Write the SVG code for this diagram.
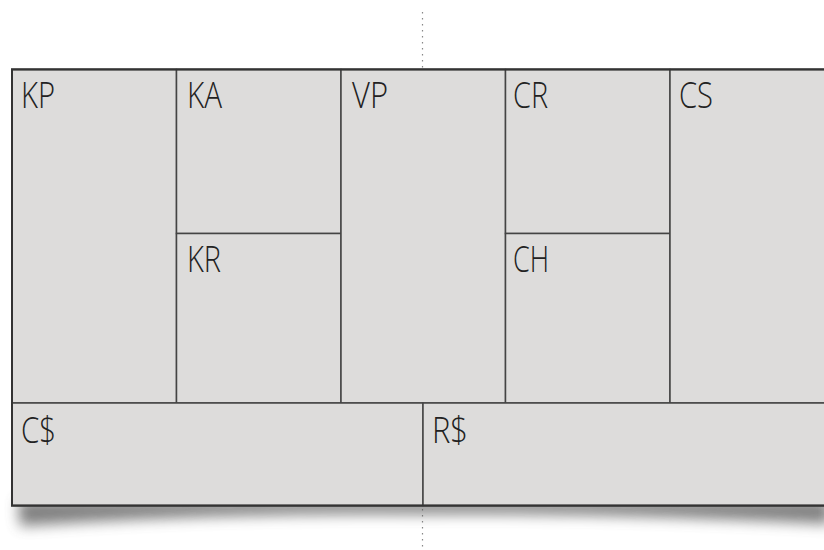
<svg xmlns="http://www.w3.org/2000/svg" width="824" height="550" viewBox="0 0 824 550">
<defs>
<style>
.cell{fill:#dddcdb;stroke:#444;stroke-width:1.5}
.lbl{font-family:"Open Sans","Noto Sans","Liberation Sans",sans-serif;font-weight:300;font-size:36px;fill:#222}
.dot{stroke:#888;stroke-width:1.2;stroke-dasharray:1.5 4.5;fill:none}
</style>
<filter id="sh" x="-10%" y="-100%" width="120%" height="300%">
<feGaussianBlur stdDeviation="7"/>
</filter>
</defs>
<rect width="824" height="550" fill="#fff"/>
<g id="guides">
<line class="dot" x1="422.5" y1="12" x2="422.5" y2="68"/>
<line class="dot" x1="422.5" y1="509" x2="422.5" y2="548"/>
</g>
<g id="shadow">
<path d="M18 500 L830 500 L830 524 Q600 512 422 514 Q220 512 20 526 Z" fill="#555" opacity="0.75" filter="url(#sh)"/>
</g>
<g id="frame">
<rect x="12" y="69.5" width="820" height="436" fill="#dddcdb" stroke="#333" stroke-width="2"/>
</g>
<g id="KP"><rect class="cell" x="12" y="69.5" width="164.5" height="333.5"/><text class="lbl" x="21" y="108" textLength="34" lengthAdjust="spacingAndGlyphs">KP</text></g>
<g id="KA"><rect class="cell" x="176.5" y="69.5" width="164.5" height="164"/><text class="lbl" x="187" y="108" textLength="35" lengthAdjust="spacingAndGlyphs">KA</text></g>
<g id="KR"><rect class="cell" x="176.5" y="233.5" width="164.5" height="169.5"/><text class="lbl" x="187" y="272" textLength="34" lengthAdjust="spacingAndGlyphs">KR</text></g>
<g id="VP"><rect class="cell" x="341" y="69.5" width="164.5" height="333.5"/><text class="lbl" x="352" y="108" textLength="36" lengthAdjust="spacingAndGlyphs">VP</text></g>
<g id="CR"><rect class="cell" x="505.5" y="69.5" width="164.5" height="164"/><text class="lbl" x="513" y="108" textLength="35" lengthAdjust="spacingAndGlyphs">CR</text></g>
<g id="CH"><rect class="cell" x="505.5" y="233.5" width="164.5" height="169.5"/><text class="lbl" x="513" y="272" textLength="36" lengthAdjust="spacingAndGlyphs">CH</text></g>
<g id="CS"><rect class="cell" x="670" y="69.5" width="162" height="333.5"/><text class="lbl" x="679" y="108" textLength="34" lengthAdjust="spacingAndGlyphs">CS</text></g>
<g id="Cost"><rect class="cell" x="12" y="403" width="411" height="102.5"/><text class="lbl" x="21" y="443" textLength="35" lengthAdjust="spacingAndGlyphs">C$</text></g>
<g id="Revenue"><rect class="cell" x="423" y="403" width="409" height="102.5"/><text class="lbl" x="432" y="443" textLength="36" lengthAdjust="spacingAndGlyphs">R$</text></g>
<g id="border">
<rect x="12" y="69.5" width="820" height="436" fill="none" stroke="#333" stroke-width="2"/>
</g>
</svg>
